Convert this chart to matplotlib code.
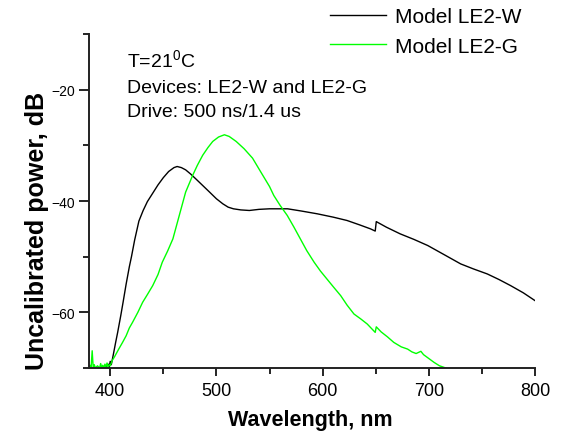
import matplotlib
matplotlib.use("Agg")
import matplotlib.pyplot as plt
from matplotlib.ticker import MultipleLocator

plt.rcParams['font.family'] = ['Liberation Sans', 'DejaVu Sans']
plt.rcParams['mathtext.fontset'] = 'custom'
plt.rcParams['mathtext.rm'] = 'Liberation Sans'

# --- data ---
wl_w = [396, 398, 399, 400, 401, 403, 405, 407, 410, 412, 415, 418, 420, 423, 427,
        431, 435, 440, 445, 450, 455, 460, 463, 467, 471, 476, 481, 487, 493, 500,
        506, 511, 516, 523, 531, 540, 550, 560, 567, 580, 595, 610, 623, 635, 645,
        649.5, 650.5, 660, 673, 686, 699, 715, 730, 742, 755, 766, 777, 789, 800]
pw_w = [-69.8, -69.3, -69.8, -68.8, -69.4, -67.5, -65.5, -63.6, -60.5, -58.3, -54.9,
        -51.8, -50.0, -47.0, -43.6, -41.7, -40.1, -38.6, -37.1, -35.8, -34.7, -34.0,
        -33.8, -34.0, -34.4, -35.2, -36.1, -37.2, -38.3, -39.6, -40.5, -41.1, -41.4,
        -41.6, -41.7, -41.5, -41.4, -41.4, -41.4, -41.8, -42.3, -42.9, -43.5, -44.3,
        -45.0, -45.4, -43.7, -44.7, -45.9, -46.9, -48.0, -49.7, -51.3, -52.2, -53.1,
        -54.1, -55.2, -56.5, -57.9]

wl_g = [380, 381, 382, 383, 384, 385, 386, 388, 390, 391, 392, 393, 394, 395, 396,
        397, 398, 399, 400, 402, 404, 406, 408, 411.6, 415, 418, 421, 426, 430.5,
        435, 440, 445, 449, 454, 459, 465, 471, 477.6, 482, 487, 492, 496.5, 502,
        507.5, 512, 518.6, 526, 534, 541.5, 550, 554, 560, 566.7, 573, 579, 585,
        592, 598, 604, 610, 617, 623, 629.5, 636, 642, 646, 649.5, 650.5, 655, 661,
        667, 674, 680, 684, 688, 692.5, 695, 700, 705, 710, 716]
pw_g = [-70, -69.5, -70, -66.9, -70, -69.4, -70, -69.6, -70, -69.2, -70, -69.5, -70,
        -69.3, -69.8, -69.1, -69.9, -69.4, -69.6, -68.6, -68.0, -67.3, -66.6, -65.4,
        -64.2, -62.8, -61.8, -60.0, -58.2, -56.8, -55.2, -53.2, -51.0, -49.0, -46.8,
        -42.6, -38.4, -35.4, -33.6, -31.8, -30.4, -29.3, -28.5, -28.1, -28.4, -29.3,
        -30.6, -32.3, -34.7, -37.4, -39.0, -40.8, -42.6, -44.7, -46.8, -48.9, -51.0,
        -52.6, -54.0, -55.4, -57.0, -58.7, -60.3, -61.2, -62.1, -62.9, -63.6, -62.6,
        -63.5, -64.4, -65.4, -66.2, -66.6, -67.1, -67.4, -67.0, -67.6, -68.3, -69.0,
        -69.6, -70.0]

labels = ["Model LE2-W", "Model LE2-G"]
colors = ["black", "#00ff00"]
notes = ["T=21$^{0}$C", "Devices: LE2-W and LE2-G", "Drive: 500 ns/1.4 us"]

fig = plt.figure(figsize=(5.65, 4.35), dpi=100)
ax = fig.add_axes([0.1575, 0.1517, 0.7895, 0.7678])

ax.plot(wl_w, pw_w, color=colors[0], lw=1.0, label=labels[0])
ax.plot(wl_g, pw_g, color=colors[1], lw=1.0, label=labels[1])

ax.set_xlim(380, 800)
ax.set_ylim(-70, -10)
ax.xaxis.set_major_locator(MultipleLocator(100))
ax.xaxis.set_minor_locator(MultipleLocator(50))
ax.yaxis.set_major_locator(MultipleLocator(20))
ax.yaxis.set_minor_locator(MultipleLocator(10))

for s in ["top", "right"]:
    ax.spines[s].set_visible(False)
for s in ["left", "bottom"]:
    ax.spines[s].set_linewidth(1.4)
    ax.spines[s].set_color("#222222")

ax.tick_params(axis="x", which="major", length=6, width=1.2, labelsize=13, pad=4)
ax.tick_params(axis="x", which="minor", length=4, width=1.2)
ax.tick_params(axis="y", which="major", length=7, width=1.2, labelsize=10, pad=3)
ax.tick_params(axis="y", which="minor", length=4, width=1.2)

# axis titles placed where the reference has them
ax.set_xlabel("Wavelength, nm", fontsize=15.5, fontweight="bold")
ax.xaxis.set_label_coords((310 - 89) / 446, -(426 - 369) / 334)
ax.xaxis.label.set_va("baseline")
ax.set_ylabel("Uncalibrated power, dB", fontsize=18, fontweight="bold")
ax.yaxis.set_label_coords(-(89 - 37) / 446, (369 - 231) / 334)
ax.yaxis.label.set_va("center")

# annotation block
ys = [67.7, 92.7, 116.7]
for txt, yp in zip(notes, ys):
    fig.text(127 / 565, 1 - yp / 435, txt, fontsize=14, ha="left", va="baseline")

leg = ax.legend(loc="upper left", bbox_to_anchor=(326 / 565, 1 - 4 / 435),
                bbox_transform=fig.transFigure, frameon=False, fontsize=15,
                handlelength=2.7, handletextpad=0.4, labelspacing=0.5,
                borderaxespad=0, borderpad=0.2)
for ln in leg.get_lines():
    ln.set_linewidth(1.0)

fig.savefig("out.png", dpi=100)
